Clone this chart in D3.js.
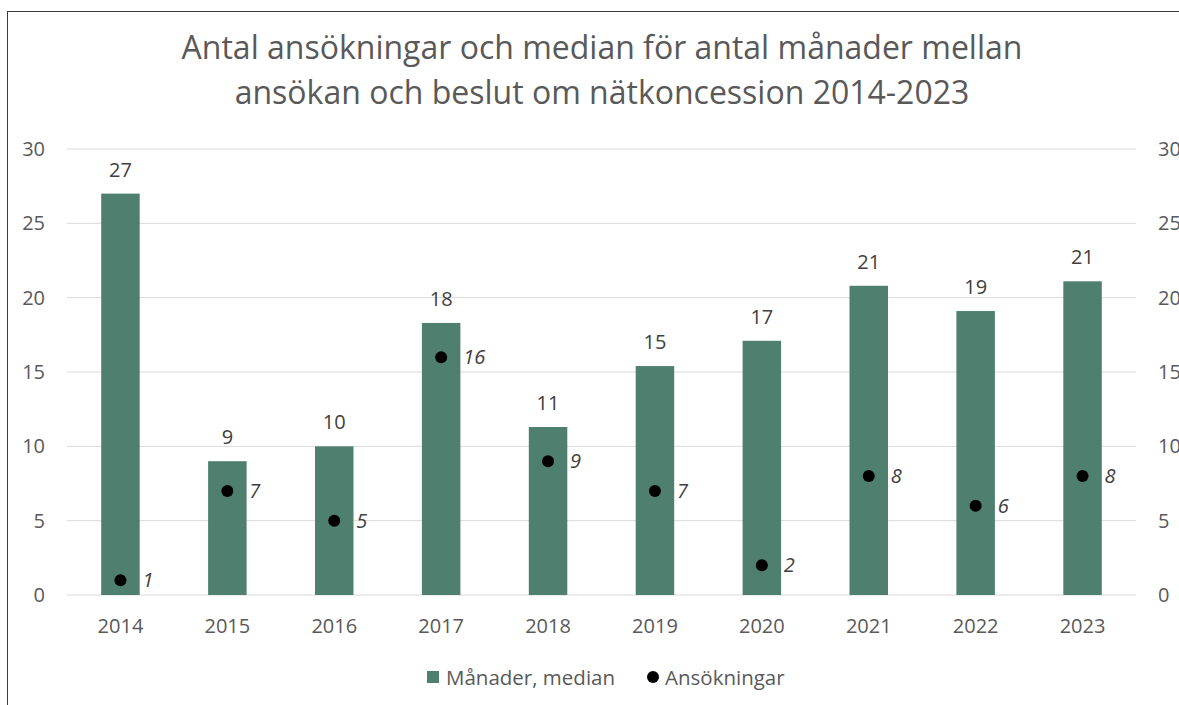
<!DOCTYPE html>
<html>
<head>
<meta charset="utf-8">
<script src="https://cdn.jsdelivr.net/npm/d3@7"></script>
<style>
  body { margin: 0; background: white; }
  text { font-family: "Open Sans", "Liberation Sans", sans-serif; }
</style>
</head>
<body>
<div id="chart"></div>
<script>
const years = ["2014", "2015", "2016", "2017", "2018", "2019", "2020", "2021", "2022", "2023"]
const months = [27.0, 9.0, 10.0, 18.3, 11.3, 15.4, 17.1, 20.8, 19.1, 21.1]
const applications = [1, 7, 5, 16, 9, 7, 2, 8, 6, 8]
const yTicks = [0, 5, 10, 15, 20, 25, 30]
const titleLines = ["Antal ansökningar och median för antal månader mellan", "ansökan och beslut om nätkoncession 2014-2023"]

const W = 1179, H = 705
const margin = {top: 149, right: 43, bottom: 110, left: 67}
const width = W - margin.left - margin.right
const height = H - margin.top - margin.bottom

const barColor = "#4e7f6f"

const root = d3.select("#chart").append("svg")
    .attr("width", W)
    .attr("height", H)

// outer frame
root.append("rect")
    .attr("x", 7.5).attr("y", 11.5)
    .attr("width", W + 20).attr("height", H + 20)
    .attr("fill", "none")
    .attr("stroke", "#3a3a3a")
    .attr("stroke-width", 1)

// title
root.append("text")
    .attr("x", 602)
    .attr("y", 59)
    .attr("text-anchor", "middle")
    .style("font-size", "32px")
    .attr("fill", "#595959")
    .selectAll("tspan")
    .data(titleLines)
    .join("tspan")
        .attr("x", 602)
        .attr("dy", (d, i) => i === 0 ? 0 : 45)
        .text(d => d)

const svg = root.append("g")
    .attr("transform", `translate(${margin.left},${margin.top})`)

const x = d3.scaleBand()
    .domain(years)
    .range([0, width])
    .paddingInner(0.64)
    .paddingOuter(0.32)

const y = d3.scaleLinear()
    .domain([0, 30])
    .range([height, 0])

const y2 = d3.scaleLinear()
    .domain([0, 30])
    .range([height, 0])

// gridlines
svg.append("g")
    .selectAll("line")
    .data(yTicks)
    .join("line")
        .attr("x1", 0)
        .attr("x2", width)
        .attr("y1", d => y(d))
        .attr("y2", d => y(d))
        .attr("stroke", "#d9d9d9")
        .attr("stroke-width", 1)

// left axis
const yGroup = svg.append("g")
    .call(d3.axisLeft(y).tickValues(yTicks).tickSize(0).tickPadding(22))
yGroup.call(g => g.select(".domain").remove())
yGroup.selectAll("text")
    .style("font-size", "20px")
    .attr("fill", "#595959")

// right axis
const y2Group = svg.append("g")
    .attr("transform", `translate(${width},0)`)
    .call(d3.axisRight(y2).tickValues(yTicks).tickSize(0).tickPadding(22))
y2Group.call(g => g.select(".domain").remove())
y2Group.selectAll("text")
    .style("font-size", "20px")
    .attr("fill", "#595959")

// x axis
const xGroup = svg.append("g")
    .attr("transform", `translate(0,${height})`)
    .call(d3.axisBottom(x).tickSize(0).tickPadding(24))
xGroup.call(g => g.select(".domain").remove())
xGroup.selectAll("text")
    .style("font-size", "20px")
    .attr("fill", "#595959")

// bars
svg.selectAll(".bar")
    .data(months)
    .join("rect")
        .attr("class", "bar")
        .attr("x", (d, i) => x(years[i]))
        .attr("y", d => y(d))
        .attr("width", x.bandwidth())
        .attr("height", d => height - y(d))
        .attr("fill", barColor)

// bar labels
svg.selectAll(".bar-label")
    .data(months)
    .join("text")
        .attr("class", "bar-label")
        .attr("x", (d, i) => x(years[i]) + x.bandwidth() / 2)
        .attr("y", d => y(d) - 17)
        .attr("text-anchor", "middle")
        .style("font-size", "20px")
        .attr("fill", "#404040")
        .text(d => Math.round(d))

// dots
svg.selectAll(".dot")
    .data(applications)
    .join("circle")
        .attr("class", "dot")
        .attr("cx", (d, i) => x(years[i]) + x.bandwidth() / 2)
        .attr("cy", d => y2(d))
        .attr("r", 6)
        .attr("fill", "#000")

svg.selectAll(".dot-label")
    .data(applications)
    .join("text")
        .attr("class", "dot-label")
        .attr("x", (d, i) => x(years[i]) + x.bandwidth() / 2 + 22)
        .attr("y", d => y2(d) + 7)
        .style("font-size", "20px")
        .style("font-style", "italic")
        .attr("fill", "#404040")
        .text(d => d)

// legend
const legend = root.append("g")
    .attr("transform", "translate(0,685)")
legend.append("rect")
    .attr("x", 427).attr("y", -14)
    .attr("width", 12).attr("height", 12)
    .attr("fill", barColor)
legend.append("text")
    .attr("x", 446).attr("y", 0)
    .style("font-size", "20.5px")
    .attr("fill", "#595959")
    .text("Månader, median")
legend.append("circle")
    .attr("cx", 653).attr("cy", -8)
    .attr("r", 6)
    .attr("fill", "#000")
legend.append("text")
    .attr("x", 665).attr("y", 0)
    .style("font-size", "20.5px")
    .attr("fill", "#595959")
    .text("Ansökningar")
</script>
</body>
</html>
